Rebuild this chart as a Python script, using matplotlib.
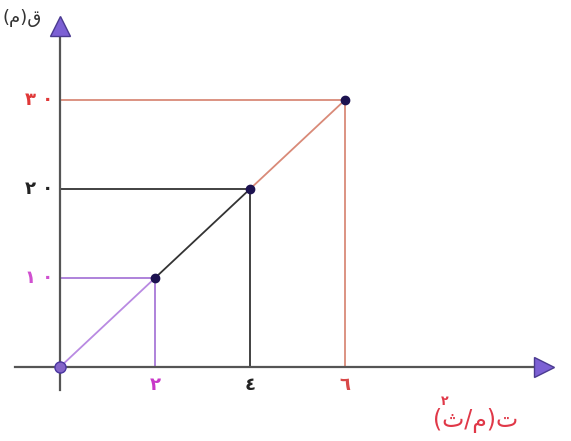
import matplotlib.pyplot as plt

# velocity / time style graph (Arabic labels)
t = [0, 2, 4, 6]
q = [0, 10, 20, 30]
seg_colors = ['#b98ae2', '#333333', '#d98a78']
guide_colors = ['#a878d8', '#333333', '#d98a78']
xlabels = ['٢', '٤', '٦']
ylabels = ['١ ٠', '٢ ٠', '٣ ٠']
xlab_colors = ['#c838c8', '#222222', '#d84848']
ylab_colors = ['#d050d0', '#222222', '#e03838']

fig = plt.figure(figsize=(5.71, 4.41), dpi=100)
ax = fig.add_axes([0, 0, 1, 1])
# pixel mapping: x px = 60 + 47.5*t, y px = 367 - 8.9*q
ax.set_xlim(-60 / 47.5, (571 - 60) / 47.5)
ax.set_ylim((367 - 441) / 8.9, 367 / 8.9)
ax.axis('off')

# axes with arrow heads
ax.plot([-0.95, 10.1], [0, 0], color='#555555', lw=1.6, zorder=2)
ax.plot([0, 0], [-2.6, 38.0], color='#555555', lw=1.6, zorder=2)
ax.plot(10.2, 0, marker='>', ms=14, mfc='#7c60d4', mec='#4a3a90', mew=1, zorder=5)
ax.plot(0, 38.3, marker='^', ms=14, mfc='#7c60d4', mec='#4a3a90', mew=1, zorder=5)

# guide lines to the axes
for i in range(1, len(t)):
    c = guide_colors[i - 1]
    ax.plot([0, t[i]], [q[i], q[i]], color=c, lw=1.3, zorder=1)
    ax.plot([t[i], t[i]], [0, q[i]], color=c, lw=1.3, zorder=1)

# the graph itself
for i in range(len(t) - 1):
    ax.plot(t[i:i + 2], q[i:i + 2], color=seg_colors[i], lw=1.3, zorder=3)
ax.plot(t[1:], q[1:], 'o', ms=6, color='#1c1250', zorder=4)
ax.plot(t[0], q[0], 'o', ms=8, mfc='#8464c8', mec='#4a36a0', zorder=4)

# tick labels
for i in range(3):
    ax.text(t[i + 1], -2.0, xlabels[i], color=xlab_colors[i], fontsize=13,
            fontweight='bold', ha='center', va='center')
    ax.text(-0.14, q[i + 1], ylabels[i], color=ylab_colors[i], fontsize=13,
            fontweight='bold', ha='right', va='center')

# axis titles
ax.text(-1.22, 39.2, '(م)ق', color='#333333', fontsize=13, ha='left', va='center')
ax.text(7.85, -6.0, '(ث/م)ت', color='#e03848', fontsize=17, ha='left', va='center')
ax.text(8.1, -3.9, '٢', color='#e03848', fontsize=9, fontweight='bold',
        ha='center', va='center')

fig.savefig('out.png', dpi=100)
